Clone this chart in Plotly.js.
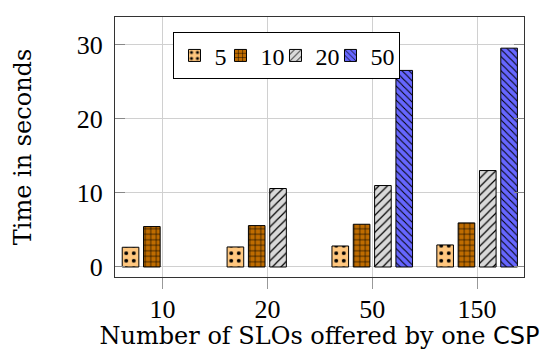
<!DOCTYPE html>
<html><head><meta charset="utf-8">
<script src="https://cdn.plot.ly/plotly-3.0.1.min.js"></script>
<style>html,body{margin:0;padding:0;background:#fff}#c{width:555px;height:350px}</style>
</head><body><div id="c"></div>
<script>
const categories = ["10", "20", "50", "150"];
const seriesNames = ["5", "10", "20", "50"];
const s5  = [2.66, 2.7, 2.83, 2.97];
const s10 = [5.45, 5.58, 5.76, 5.94];
const s20 = [null, 10.58, 10.98, 13.0];
const s50 = [null, null, 26.5, 29.5];
const yTicks = [0, 10, 20, 30];

const fills = ["#FFC77F", "#BF6C00", "#D9D9D9", "#6666FF"];
const shapes = [".", "+", "/", "\\"];
const sizes = [7.5, 5.5, 6, 5];
const solid = [0.22, 0.2, 0.2, 0.2];
const lw = [1, 10, 10, 0];
const vals = [s5, s10, s20, s50];

const traces = vals.map((v, i) => ({
  type: "bar", name: seriesNames[i],
  x: categories, y: v,
  legendwidth: lw[i],
  marker: {color: fills[i], line: {color: "#000", width: 1},
    pattern: {shape: shapes[i], fgcolor: "#000", bgcolor: fills[i], size: sizes[i], solidity: solid[i], fillmode: "replace"}},
  hoverinfo: "skip"
}));

const F = "'Liberation Serif', serif";
const FT = "'DejaVu Serif', serif";
const layout = {
  width: 555, height: 350,
  margin: {l: 115, r: 31, t: 17, b: 73},
  paper_bgcolor: "#fff", plot_bgcolor: "#fff",
  barmode: "group", bargap: 0.187, bargroupgap: 0.22,
  font: {family: F, size: 26, color: "#000"},
  showlegend: true,
  legend: {orientation: "h", x: 0.143, y: 0.941, xanchor: "left", yanchor: "top",
    bordercolor: "#000", borderwidth: 1, bgcolor: "#fff",
    font: {family: F, size: 24, color: "#000"}, itemwidth: 30, entrywidthmode: "pixels"},
  xaxis: {type: "category", range: [-0.453, 3.447],
    showline: true, linecolor: "#333", linewidth: 1, mirror: true,
    showgrid: true, gridcolor: "#d0d0d0", gridwidth: 1,
    ticks: "outside", ticklen: 11, tickcolor: "#999", tickwidth: 1,
    tickfont: {family: F, size: 26}, ticklabelstandoff: -2,
    title: {text: 'Number of SLOs offered by one <span style="font-family:\'DejaVu Sans\', sans-serif">CSP</span>', font: {family: FT, size: 24}, standoff: 0},
    zeroline: false, fixedrange: true},
  yaxis: {range: [-1.35, 33.7], tickvals: yTicks, ticktext: yTicks.map(String),
    showline: true, linecolor: "#333", linewidth: 1, mirror: "ticks",
    showgrid: true, gridcolor: "#d0d0d0", gridwidth: 1,
    ticks: "inside", ticklen: 10, tickcolor: "#888", tickwidth: 1,
    tickfont: {family: F, size: 26}, ticklabelstandoff: 6,
    title: {text: "Time in seconds", font: {family: FT, size: 24}, standoff: 38},
    zeroline: false, fixedrange: true}
};
Plotly.newPlot("c", traces, layout, {staticPlot: true, displayModeBar: false});
</script></body></html>
